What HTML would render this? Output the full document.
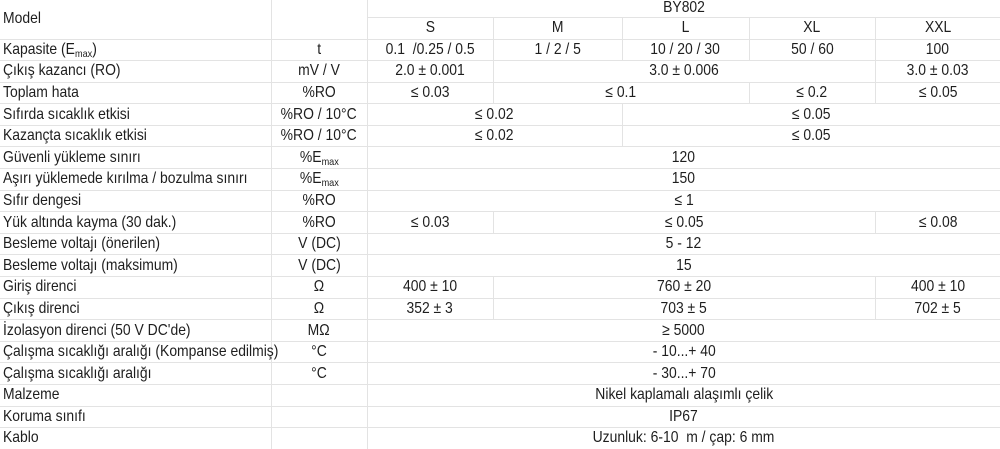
<!DOCTYPE html>
<html><head><meta charset="utf-8"><style>
html,body{margin:0;padding:0;background:#fff;width:1000px;height:449px;overflow:hidden}
table{border-collapse:collapse;table-layout:fixed;width:1000px;font-family:"Liberation Sans",sans-serif;font-size:16px;color:#1e1e1e}
td{border:1px solid #e3e3e3;padding:0;text-align:center;white-space:nowrap;overflow:visible;line-height:16px}
td span{display:inline-block;transform:scaleX(0.87);transform-origin:center}
td.l{text-align:left;padding-left:3px}
td.l span{transform-origin:left center}
tr td:first-child{border-left:none}
tr td:last-child{border-right:none}
tr.h1 td{border-top:none}
tr.r td{height:20.6px}
tr:last-child td{border-bottom:none}
sub{font-size:10.5px;vertical-align:-3px;line-height:0}
</style></head><body>
<table>
<colgroup><col style="width:271px"><col style="width:96px"><col style="width:126px"><col style="width:129px"><col style="width:127px"><col style="width:126px"><col style="width:125px"></colgroup>
<tr class="h1"><td class="l" rowspan="2"><span>Model</span></td><td rowspan="2"></td><td colspan="5" style="height:16.5px"><span>BY802</span></td></tr>
<tr><td style="height:21px"><span>S</span></td><td><span>M</span></td><td><span>L</span></td><td><span>XL</span></td><td><span>XXL</span></td></tr>
<tr class="r"><td class="l"><span>Kapasite (E<sub>max</sub>)</span></td><td><span>t</span></td><td><span>0.1 &nbsp;/0.25 / 0.5</span></td><td><span>1 / 2 / 5</span></td><td><span>10 / 20 / 30</span></td><td><span>50 / 60</span></td><td><span>100</span></td></tr>
<tr class="r"><td class="l"><span>Çıkış kazancı (RO)</span></td><td><span>mV / V</span></td><td><span>2.0 ± 0.001</span></td><td colspan="3"><span>3.0 ± 0.006</span></td><td><span>3.0 ± 0.03</span></td></tr>
<tr class="r"><td class="l"><span>Toplam hata</span></td><td><span>%RO</span></td><td><span>≤ 0.03</span></td><td colspan="2"><span>≤ 0.1</span></td><td><span>≤ 0.2</span></td><td><span>≤ 0.05</span></td></tr>
<tr class="r"><td class="l"><span>Sıfırda sıcaklık etkisi</span></td><td><span>%RO / 10°C</span></td><td colspan="2"><span>≤ 0.02</span></td><td colspan="3"><span>≤ 0.05</span></td></tr>
<tr class="r"><td class="l"><span>Kazançta sıcaklık etkisi</span></td><td><span>%RO / 10°C</span></td><td colspan="2"><span>≤ 0.02</span></td><td colspan="3"><span>≤ 0.05</span></td></tr>
<tr class="r"><td class="l"><span>Güvenli yükleme sınırı</span></td><td><span>%E<sub>max</sub></span></td><td colspan="5"><span>120</span></td></tr>
<tr class="r"><td class="l"><span>Aşırı yüklemede kırılma / bozulma sınırı</span></td><td><span>%E<sub>max</sub></span></td><td colspan="5"><span>150</span></td></tr>
<tr class="r"><td class="l"><span>Sıfır dengesi</span></td><td><span>%RO</span></td><td colspan="5"><span>≤ 1</span></td></tr>
<tr class="r"><td class="l"><span>Yük altında kayma (30 dak.)</span></td><td><span>%RO</span></td><td><span>≤ 0.03</span></td><td colspan="3"><span>≤ 0.05</span></td><td><span>≤ 0.08</span></td></tr>
<tr class="r"><td class="l"><span>Besleme voltajı (önerilen)</span></td><td><span>V (DC)</span></td><td colspan="5"><span>5 - 12</span></td></tr>
<tr class="r"><td class="l"><span>Besleme voltajı (maksimum)</span></td><td><span>V (DC)</span></td><td colspan="5"><span>15</span></td></tr>
<tr class="r"><td class="l"><span>Giriş direnci</span></td><td><span>Ω</span></td><td><span>400 ± 10</span></td><td colspan="3"><span>760 ± 20</span></td><td><span>400 ± 10</span></td></tr>
<tr class="r"><td class="l"><span>Çıkış direnci</span></td><td><span>Ω</span></td><td><span>352 ± 3</span></td><td colspan="3"><span>703 ± 5</span></td><td><span>702 ± 5</span></td></tr>
<tr class="r"><td class="l"><span>İzolasyon direnci (50 V DC'de)</span></td><td><span>MΩ</span></td><td colspan="5"><span>≥ 5000</span></td></tr>
<tr class="r"><td class="l"><span>Çalışma sıcaklığı aralığı (Kompanse edilmiş)</span></td><td><span>°C</span></td><td colspan="5"><span>- 10...+ 40</span></td></tr>
<tr class="r"><td class="l"><span>Çalışma sıcaklığı aralığı</span></td><td><span>°C</span></td><td colspan="5"><span>- 30...+ 70</span></td></tr>
<tr class="r"><td class="l"><span>Malzeme</span></td><td></td><td colspan="5"><span>Nikel kaplamalı alaşımlı çelik</span></td></tr>
<tr class="r"><td class="l"><span>Koruma sınıfı</span></td><td></td><td colspan="5"><span>IP67</span></td></tr>
<tr class="r"><td class="l"><span>Kablo</span></td><td></td><td colspan="5"><span>Uzunluk: 6-10 &nbsp;m / çap: 6 mm</span></td></tr>
</table>
</body></html>
